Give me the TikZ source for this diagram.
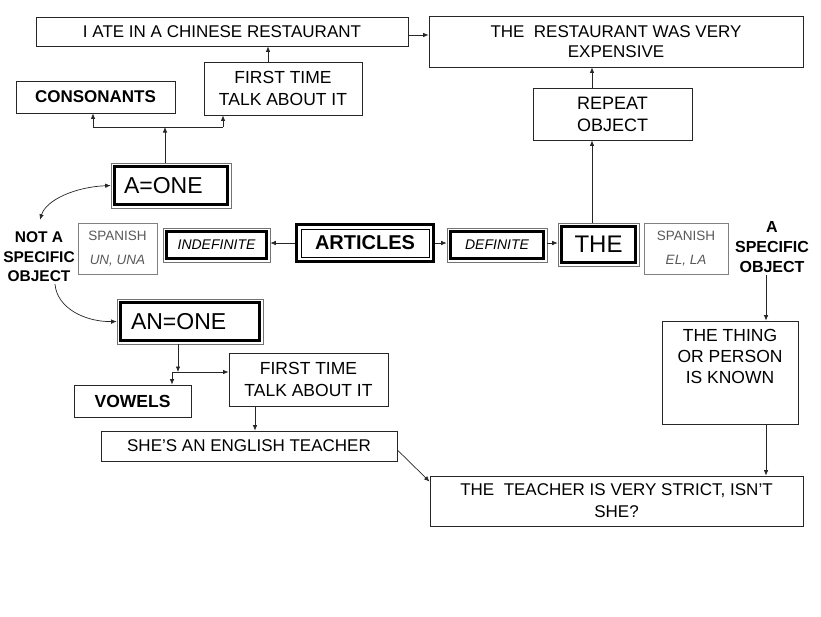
\documentclass[tikz,border=0pt]{standalone}
\usepackage{fontspec}
\setmainfont{Liberation Sans}
\usetikzlibrary{arrows.meta,calc}
\begin{document}
\begin{tikzpicture}[x=1pt,y=-1pt,
  tip/.tip={Latex[length=5.5pt,width=4.5pt]},
  box/.style={draw=black!85, line width=0.8pt, inner sep=0pt, align=center, font=\fontsize{17}{20.5}\selectfont},
  fr/.style={draw=black!55, line width=0.6pt, inner sep=0pt,
    path picture={\draw[line width=3pt,black] ([shift={(3.5,3.5)}]path picture bounding box.north west) rectangle ([shift={(-3.5,-3.5)}]path picture bounding box.south east);}},
  artfr/.style={inner sep=0pt,
    path picture={\draw[line width=3pt,black] ([shift={(1.5,1.5)}]path picture bounding box.north west) rectangle ([shift={(-1.5,-1.5)}]path picture bounding box.south east);
                  \draw[line width=0.8pt,black] ([shift={(6,6)}]path picture bounding box.north west) rectangle ([shift={(-6,-6)}]path picture bounding box.south east);}},
  span/.style={draw=black!50, line width=0.6pt, inner sep=0pt, align=center, text=black!65, font=\fontsize{13.5}{24}\selectfont},
  lbl/.style={inner sep=2pt, align=center, font=\bfseries\fontsize{15.5}{19.5}\selectfont},
  arr/.style={-tip, line width=0.7pt, draw=black!85},
  dbl/.style={tip-tip, line width=0.7pt, draw=black!85}
]
\useasboundingbox[fill=white] (0,0) rectangle (821,616);

% top row
\node[box, minimum width=372pt, minimum height=29pt] (ate) at (222,31.5) {I ATE IN A CHINESE RESTAURANT};
\node[box, minimum width=374pt, minimum height=51pt] (rest) at (616,41.5) {THE\ \ RESTAURANT WAS VERY\\EXPENSIVE};
\node[box, minimum width=158pt, minimum height=53pt, font=\fontsize{17.5}{21.5}\selectfont] (first1) at (283,88.5) {FIRST TIME\\TALK ABOUT IT};
\node[box, minimum width=159pt, minimum height=32pt, font=\bfseries\fontsize{17}{20}\selectfont] (cons) at (95.5,97) {CONSONANTS};
\node[box, minimum width=159pt, minimum height=52pt, font=\fontsize{18}{22}\selectfont] (repeat) at (612.5,114) {REPEAT\\OBJECT};
\node[fr, minimum width=120pt, minimum height=45pt, text width=94pt, align=left, font=\fontsize{23}{26}\selectfont] (aone) at (171,185.5) {A=ONE};

% middle row
\node[artfr, minimum width=140pt, minimum height=40pt, font=\bfseries\fontsize{20}{24}\selectfont] (articles) at (365,243) {ARTICLES};
\node[fr, minimum width=107pt, minimum height=34pt, font=\itshape\fontsize{14}{17}\selectfont] (indef) at (216.5,245) {INDEFINITE};
\node[fr, minimum width=100pt, minimum height=34pt, font=\itshape\fontsize{14}{17}\selectfont] (def) at (497,245) {DEFINITE};
\node[fr, minimum width=81pt, minimum height=43pt, font=\fontsize{24}{28}\selectfont] (the) at (598.5,244.5) {THE};
\node[span, minimum width=79pt, minimum height=51pt] (span1) at (117.5,248.5) {SPANISH\\\textit{UN, UNA}};
\node[span, minimum width=84pt, minimum height=51pt] (span2) at (686,248.5) {SPANISH\\\textit{EL, LA}};
\node[lbl] (nots) at (39,257) {NOT A\\SPECIFIC\\OBJECT};
\node[lbl, font=\bfseries\fontsize{16}{20}\selectfont] (aspec) at (772,247) {A\\SPECIFIC\\OBJECT};

% lower part
\node[fr, minimum width=146pt, minimum height=45pt, text width=118pt, align=left, font=\fontsize{23}{26}\selectfont] (anone) at (190,321.5) {AN=ONE};
\node[box, minimum width=117pt, minimum height=32pt, font=\bfseries\fontsize{17.5}{20}\selectfont] (vowels) at (132.5,401) {VOWELS};
\node[box, minimum width=159pt, minimum height=53pt, font=\fontsize{17.5}{21.5}\selectfont] (first2) at (308.5,379.5) {FIRST TIME\\TALK ABOUT IT};
\node[box, minimum width=296pt, minimum height=30pt] (she) at (249,446) {SHE’S AN ENGLISH TEACHER};
\node[box, minimum width=136pt, minimum height=103pt] (thing) at (730,372.5) {\parbox[c][103pt][t]{136pt}{\centering\fontsize{17.5}{21}\selectfont\vspace*{8pt}THE THING\\OR PERSON\\IS KNOWN}};
\node[box, minimum width=373pt, minimum height=50pt, font=\fontsize{17}{22}\selectfont] (teacher) at (616.5,501) {THE\ \ TEACHER IS VERY STRICT, ISN’T\\SHE?};

% helper coordinates
\coordinate (j1) at (165,127);
\coordinate (xl1) at (93,127);
\coordinate (xr1) at (223,127);
\coordinate (j2) at (178,372);
\coordinate (j2l) at (172,372);
\coordinate (c3) at (255,0);
\coordinate (c4) at (766,0);
\coordinate (c5) at (592,0);
\coordinate (c6) at (268,0);
\coordinate (r1) at (0,35);

% connectors top
\draw[arr] (ate.east |- r1) -- (rest.west |- r1);
\draw[arr] (first1.north -| c6) -- (ate.south -| c6);
\draw[arr] (aone.north -| j1) -- (j1);
\draw[line width=0.7pt, draw=black!85] (xl1) -- (xr1);
\draw[arr] (xl1) -- (cons.south -| xl1);
\draw[arr] (xr1) -- (first1.south -| xr1);
\draw[arr] (repeat.north -| c5) -- (rest.south -| c5);
\draw[arr] (the.north -| c5) -- (repeat.south -| c5);

% connectors middle
\draw[arr] (articles.west) -- (indef.east |- articles.west);
\draw[arr] (articles.east) -- (def.west |- articles.east);
\draw[arr] (def.east |- articles.east) -- (the.west |- articles.east);
\draw[dbl] ([shift={(1,-10)}]nots.north) .. controls (46,200) and (75,187) .. (aone.west);
\draw[arr] ([shift={(16,0)}]nots.south) .. controls (57,308) and (85,322) .. (anone.west);
\draw[arr] (aspec.south -| c4) -- (thing.north -| c4);

% connectors lower
\draw[arr] (anone.south -| j2) -- (j2);
\draw[arr] (j2l) -- (first2.west |- j2l);
\draw[arr] (j2l) -- (vowels.north -| j2l);
\draw[arr] (first2.south -| c3) -- (she.north -| c3);
\draw[arr] ([shift={(0,4)}]she.east) -- ([shift={(0,6)}]teacher.north west);
\draw[arr] (thing.south -| c4) -- (teacher.north -| c4);
\end{tikzpicture}
\end{document}
